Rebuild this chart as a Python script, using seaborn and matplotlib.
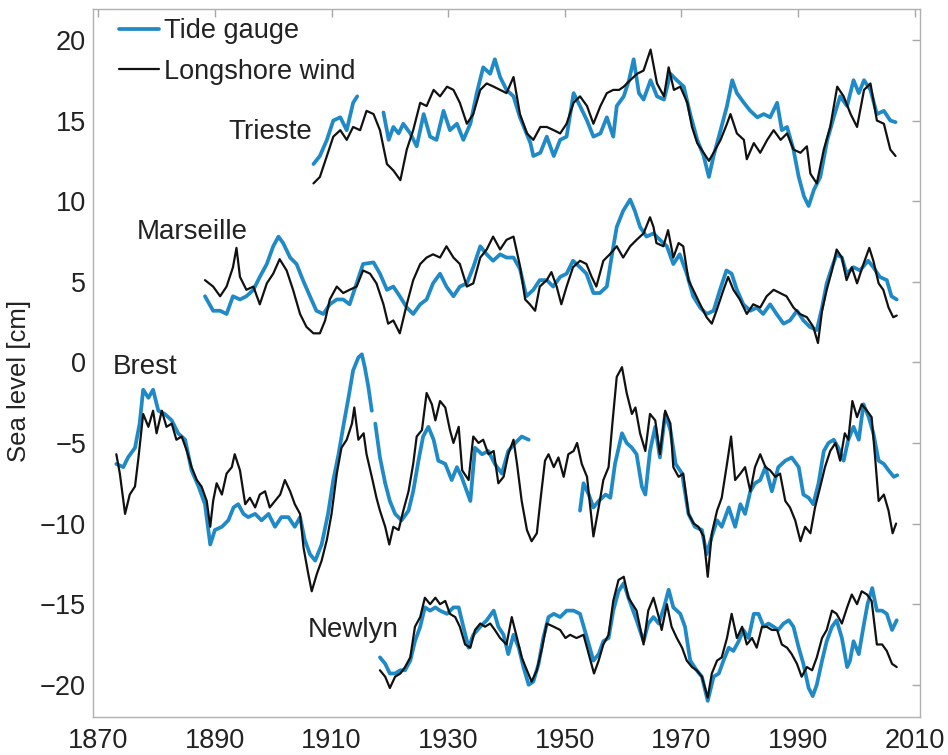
import numpy as np
import pandas as pd
import matplotlib
matplotlib.use("Agg")
import matplotlib.pyplot as plt
from matplotlib.lines import Line2D
import seaborn as sns

nan = np.nan

# ---------------- Trieste ----------------
trieste_wind_year = [
    1906.9, 1908.0, 1909.2, 1910.3, 1911.5, 1912.6, 1913.7, 1914.9, 1916.0, 1917.2,
    1918.3, 1919.5, 1920.6, 1921.8, 1922.9, 1924.0, 1925.2, 1926.3, 1927.5, 1928.6,
    1929.8, 1930.9, 1932.0, 1933.2, 1934.3, 1935.5, 1936.6, 1937.8, 1938.9, 1940.0,
    1941.2, 1942.3, 1943.5, 1944.6, 1945.8, 1946.9, 1948.1, 1949.2, 1950.3, 1951.5,
    1952.6, 1953.8, 1954.9, 1956.1, 1957.2, 1958.3, 1959.3, 1960.1, 1961.2, 1962.4,
    1963.5, 1964.7, 1965.8, 1967.0, 1967.8, 1968.7, 1969.8, 1971.0, 1971.8, 1972.7,
    1973.8, 1974.7, 1975.5, 1976.7, 1977.8, 1978.4, 1979.5, 1980.7, 1981.2, 1982.4,
    1983.5, 1984.7, 1985.8, 1987.0, 1988.1, 1989.2, 1990.4, 1991.5, 1992.1, 1993.2,
    1994.4, 1995.5, 1996.7, 1997.8, 1999.0, 2000.1, 2001.3, 2002.4, 2003.5, 2004.7,
    2005.8, 2006.7]
trieste_wind_cm = [
    11.1, 11.5, 12.8, 14.0, 14.4, 13.8, 14.6, 14.4, 15.6, 15.4,
    14.4, 12.3, 11.9, 11.3, 13.2, 14.4, 16.1, 15.9, 16.9, 16.5,
    17.1, 16.9, 16.1, 14.8, 15.4, 16.9, 17.3, 17.1, 16.9, 16.7,
    17.7, 15.4, 14.2, 13.8, 14.6, 14.6, 14.4, 14.2, 14.8, 16.1,
    16.5, 15.9, 14.8, 15.9, 16.7, 16.9, 16.9, 17.1, 17.5, 17.9,
    18.1, 19.4, 17.3, 16.5, 18.3, 16.9, 17.1, 16.1, 14.6, 13.6,
    13.0, 12.5, 13.0, 13.8, 14.8, 15.4, 14.2, 13.8, 12.6, 13.6,
    13.0, 13.8, 14.4, 13.8, 14.2, 13.2, 13.0, 13.4, 11.7, 11.1,
    13.2, 14.6, 17.1, 16.5, 15.4, 14.6, 16.9, 17.3, 15.0, 14.8,
    13.2, 12.8]

trieste_gauge_year = [
    1906.9, 1908.0, 1909.2, 1910.3, 1911.5, 1912.6, 1913.7, 1914.4, 1916.5, 1918.9,
    1919.8, 1920.6, 1921.5, 1922.3, 1923.5, 1924.6, 1925.8, 1926.9, 1928.0, 1929.2,
    1930.3, 1931.5, 1932.6, 1933.8, 1934.9, 1936.0, 1937.2, 1938.0, 1938.9, 1940.0,
    1941.2, 1942.3, 1944.1, 1944.6, 1945.8, 1946.9, 1948.1, 1949.2, 1950.3, 1951.5,
    1952.6, 1953.8, 1954.9, 1956.1, 1957.2, 1958.3, 1958.9, 1960.1, 1961.0, 1961.8,
    1962.7, 1963.5, 1964.7, 1965.8, 1967.0, 1968.1, 1969.2, 1970.4, 1971.5, 1972.7,
    1973.8, 1974.7, 1975.5, 1976.7, 1977.8, 1978.7, 1979.5, 1980.7, 1981.8, 1983.0,
    1984.1, 1985.2, 1986.4, 1987.2, 1988.1, 1989.2, 1990.1, 1991.0, 1991.8, 1992.7,
    1993.8, 1995.0, 1996.1, 1997.2, 1998.4, 1999.5, 2000.4, 2001.3, 2002.4, 2003.5,
    2004.7, 2005.8, 2006.7]
trieste_gauge_cm = [
    12.3, 12.8, 13.8, 15.0, 15.2, 14.4, 16.1, 16.5, nan, 15.5,
    13.8, 14.6, 14.2, 14.8, 14.2, 13.4, 15.4, 14.0, 13.8, 15.6,
    14.4, 14.8, 13.8, 14.8, 16.7, 18.3, 17.9, 18.8, 17.7, 16.9,
    16.5, 15.2, 13.6, 12.8, 13.0, 14.0, 12.8, 13.8, 14.0, 16.7,
    15.9, 15.0, 14.0, 14.2, 15.2, 14.0, 15.9, 16.5, 17.5, 18.8,
    16.7, 16.3, 17.5, 16.5, 16.3, 17.9, 17.5, 17.1, 15.4, 13.8,
    12.8, 11.5, 12.8, 14.4, 15.9, 17.5, 16.7, 16.1, 15.6, 15.2,
    15.4, 15.2, 16.1, 14.4, 14.6, 13.2, 11.5, 10.3, 9.7, 10.7,
    11.5, 13.8, 15.2, 16.5, 15.9, 17.5, 16.7, 17.5, 16.9, 15.4,
    15.6, 15.0, 14.9]

# ---------------- Marseille ----------------
marseille_wind_year = [
    1888.3, 1889.7, 1890.9, 1892.0, 1893.1, 1893.7, 1894.3, 1895.4, 1896.6, 1897.7,
    1898.9, 1900.0, 1901.1, 1902.3, 1903.4, 1904.6, 1905.7, 1906.9, 1908.0, 1908.9,
    1909.7, 1910.9, 1912.0, 1913.1, 1914.3, 1915.4, 1916.6, 1917.7, 1918.9, 1919.7,
    1920.6, 1921.7, 1922.9, 1924.0, 1925.2, 1926.3, 1927.4, 1928.6, 1929.7, 1930.9,
    1932.0, 1933.2, 1934.3, 1935.5, 1936.6, 1937.7, 1938.9, 1940.0, 1941.2, 1942.3,
    1943.2, 1944.0, 1944.9, 1945.7, 1946.9, 1947.7, 1948.6, 1949.4, 1950.3, 1951.4,
    1952.6, 1953.7, 1954.6, 1955.4, 1956.6, 1957.7, 1958.9, 1960.0, 1961.2, 1962.3,
    1963.5, 1964.6, 1965.2, 1965.7, 1966.9, 1967.7, 1968.6, 1969.5, 1970.3, 1971.2,
    1972.0, 1973.2, 1974.3, 1975.2, 1976.0, 1977.2, 1978.0, 1978.9, 1980.0, 1981.2,
    1982.3, 1983.5, 1984.6, 1985.8, 1986.9, 1988.0, 1989.2, 1990.3, 1991.5, 1992.6,
    1993.4, 1994.1, 1994.9, 1995.8, 1996.6, 1997.5, 1998.3, 1999.2, 2000.1, 2001.2,
    2002.2, 2002.9, 2003.8, 2004.6, 2005.5, 2006.3, 2006.9]
marseille_wind_cm = [
    5.1, 4.7, 4.1, 4.7, 5.9, 7.1, 5.3, 4.5, 4.7, 3.6,
    4.9, 5.5, 6.4, 5.7, 4.5, 3.0, 2.2, 1.8, 1.8, 2.6,
    3.9, 4.7, 4.3, 4.5, 4.7, 5.7, 5.5, 4.9, 3.6, 2.4,
    2.6, 1.8, 3.6, 5.1, 6.1, 6.5, 6.7, 6.5, 7.2, 6.5,
    6.1, 4.7, 4.9, 6.5, 7.0, 7.8, 7.0, 7.6, 7.8, 6.0,
    3.9, 3.6, 3.2, 4.7, 5.1, 5.6, 4.7, 3.6, 4.7, 5.9,
    6.3, 6.1, 5.3, 4.7, 6.3, 6.7, 7.2, 6.5, 7.2, 7.6,
    8.0, 9.0, 8.4, 7.4, 7.2, 8.2, 6.5, 7.4, 7.2, 5.1,
    4.5, 3.6, 2.8, 2.4, 3.2, 4.5, 5.3, 4.5, 3.9, 3.0,
    3.6, 3.4, 4.1, 4.5, 4.3, 4.1, 3.4, 3.0, 2.8, 2.2,
    1.2, 3.2, 4.5, 5.7, 7.0, 6.5, 5.1, 5.9, 4.9, 6.1,
    7.1, 6.3, 4.9, 4.5, 3.4, 2.8, 2.9]

marseille_gauge_year = [
    1888.3, 1889.7, 1890.9, 1892.0, 1893.1, 1894.3, 1895.4, 1896.6, 1897.7, 1898.9,
    1900.0, 1900.9, 1901.7, 1902.9, 1904.0, 1905.1, 1906.3, 1907.4, 1908.6, 1909.7,
    1910.9, 1912.0, 1913.1, 1914.3, 1915.4, 1917.2, 1918.3, 1919.5, 1920.6, 1921.7,
    1922.9, 1924.0, 1925.2, 1926.3, 1927.4, 1928.6, 1929.7, 1930.9, 1932.0, 1933.2,
    1934.3, 1935.5, 1936.6, 1937.7, 1938.9, 1940.0, 1941.2, 1942.3, 1943.4, 1944.6,
    1945.7, 1946.9, 1948.0, 1949.2, 1950.3, 1951.4, 1952.6, 1953.7, 1954.9, 1956.0,
    1957.2, 1958.0, 1958.9, 1960.0, 1961.2, 1962.0, 1962.9, 1964.0, 1965.2, 1966.3,
    1967.5, 1968.6, 1969.7, 1970.9, 1972.0, 1973.2, 1974.3, 1975.5, 1976.6, 1977.7,
    1978.6, 1979.5, 1980.6, 1981.8, 1982.9, 1984.0, 1985.2, 1986.3, 1987.5, 1988.6,
    1989.8, 1990.9, 1992.0, 1993.2, 1994.1, 1994.9, 1995.8, 1996.6, 1997.5, 1998.3,
    1999.5, 2000.6, 2002.0, 2002.9, 2004.0, 2005.2, 2006.0, 2006.9]
marseille_gauge_cm = [
    4.1, 3.2, 3.2, 3.0, 4.1, 3.9, 4.1, 4.5, 5.3, 6.1,
    7.2, 7.8, 7.4, 6.5, 6.1, 5.1, 4.1, 3.2, 3.0, 3.6,
    3.9, 3.9, 3.6, 4.9, 6.1, 6.2, 5.5, 4.5, 4.7, 4.1,
    3.4, 3.0, 3.6, 3.9, 4.9, 5.5, 4.7, 4.1, 4.7, 4.9,
    5.9, 7.2, 6.7, 6.3, 6.7, 6.5, 6.5, 5.8, 4.1, 4.5,
    5.1, 5.1, 4.7, 5.3, 5.5, 6.3, 5.9, 5.5, 4.3, 4.3,
    4.7, 6.5, 8.4, 9.4, 10.1, 9.4, 8.4, 7.8, 8.0, 7.6,
    7.2, 6.1, 6.7, 5.5, 4.1, 3.4, 3.0, 3.2, 4.5, 5.7,
    5.5, 4.5, 3.6, 3.2, 3.4, 3.0, 3.6, 3.0, 2.4, 2.6,
    3.2, 2.6, 2.2, 2.0, 3.4, 4.9, 5.9, 6.7, 6.5, 5.5,
    5.9, 5.7, 6.3, 5.9, 5.3, 5.1, 4.1, 3.9]

# ---------------- Brest ----------------
brest_wind_year = [
    1873.1, 1873.7, 1874.6, 1875.4, 1876.3, 1876.9, 1877.7, 1878.6, 1879.4, 1880.0,
    1880.9, 1881.7, 1882.6, 1883.4, 1884.3, 1885.2, 1886.0, 1886.9, 1887.7, 1888.6,
    1889.2, 1889.7, 1890.3, 1891.2, 1892.0, 1892.9, 1893.4, 1894.3, 1895.2, 1896.0,
    1896.9, 1897.7, 1898.6, 1899.4, 1900.3, 1901.2, 1902.0, 1902.9, 1903.7, 1904.6,
    1905.2, 1906.0, 1906.6, 1907.5, 1908.3, 1909.2, 1910.0, 1910.9, 1911.7, 1912.6,
    1913.5, 1913.9, 1914.6, 1915.5, 1916.0, 1916.9, 1917.7, 1918.3, 1919.2, 1919.9,
    1920.6, 1921.5, 1922.3, 1923.2, 1924.0, 1924.6, 1925.5, 1926.3, 1927.2, 1927.8,
    1928.6, 1929.5, 1930.3, 1930.9, 1931.8, 1932.4, 1933.5, 1934.3, 1935.2, 1936.0,
    1936.9, 1937.8, 1938.6, 1939.5, 1940.3, 1941.2, 1941.8, 1942.6, 1943.5, 1944.3,
    1945.2, 1945.8, 1946.6, 1947.2, 1948.1, 1948.9, 1949.8, 1950.6, 1951.5, 1952.1,
    1952.9, 1953.8, 1954.9, 1955.8, 1956.6, 1957.5, 1958.2, 1958.9, 1959.8, 1960.6,
    1961.5, 1962.1, 1962.9, 1963.8, 1964.6, 1965.5, 1966.3, 1967.2, 1968.1, 1968.6,
    1969.5, 1970.3, 1971.2, 1972.1, 1972.9, 1973.8, 1974.5, 1975.2, 1976.1, 1976.9,
    1977.8, 1978.5, 1979.2, 1980.1, 1980.9, 1981.8, 1982.6, 1983.5, 1984.4, 1985.2,
    1986.1, 1986.9, 1987.8, 1988.6, 1989.5, 1990.4, 1991.2, 1992.1, 1992.9, 1993.8,
    1994.6, 1995.5, 1996.4, 1997.2, 1998.0, 1998.6, 1999.3, 2000.1, 2000.9, 2001.8,
    2002.6, 2003.2, 2003.8, 2004.7, 2005.5, 2006.2, 2006.8]
brest_wind_cm = [
    -5.7, -6.9, -9.4, -8.2, -7.7, -5.9, -3.2, -4.0, -3.0, -4.4,
    -3.0, -4.0, -3.8, -4.8, -4.6, -5.5, -6.5, -7.3, -7.7, -8.6,
    -10.2, -8.6, -7.5, -8.2, -6.9, -6.5, -5.7, -6.7, -8.8, -8.4,
    -9.0, -8.2, -8.0, -9.0, -8.6, -8.2, -7.3, -8.0, -8.8, -9.4,
    -11.5, -13.1, -14.2, -13.1, -12.3, -11.0, -9.4, -6.9, -5.3, -4.8,
    -3.8, -2.8, -4.8, -4.4, -5.7, -7.1, -8.4, -9.2, -10.2, -11.3,
    -10.2, -10.4, -9.2, -8.0, -6.3, -4.6, -4.2, -1.9, -2.6, -3.6,
    -2.4, -2.8, -4.2, -5.0, -4.0, -6.7, -7.3, -4.6, -5.0, -4.8,
    -5.7, -5.5, -7.5, -7.1, -5.7, -4.8, -6.3, -8.6, -10.4, -11.1,
    -10.6, -8.6, -6.1, -5.7, -6.5, -5.9, -7.1, -5.7, -5.5, -5.0,
    -6.3, -7.1, -10.8, -9.0, -7.3, -6.5, -3.6, -0.9, -0.3, -1.9,
    -3.2, -2.8, -4.4, -5.5, -3.2, -3.6, -5.7, -3.0, -3.8, -6.5,
    -7.1, -6.9, -9.4, -10.0, -10.2, -10.8, -13.3, -10.6, -9.2, -8.4,
    -6.3, -4.6, -7.3, -6.9, -6.5, -8.0, -6.5, -5.7, -6.5, -6.7,
    -7.1, -6.9, -8.6, -9.0, -9.8, -11.1, -10.2, -10.6, -9.0, -7.7,
    -6.5, -5.5, -5.0, -6.1, -4.4, -4.8, -2.4, -3.4, -2.6, -3.0,
    -3.4, -5.9, -8.6, -8.2, -9.2, -10.6, -10.0]

brest_gauge_year = [
    1873.1, 1874.3, 1875.1, 1876.3, 1877.1, 1877.7, 1878.6, 1879.4, 1880.3, 1881.4,
    1882.6, 1883.7, 1884.9, 1886.0, 1887.2, 1888.3, 1889.2, 1890.0, 1891.2, 1892.3,
    1893.2, 1894.0, 1894.9, 1895.7, 1896.9, 1898.0, 1899.2, 1900.3, 1901.4, 1902.6,
    1903.7, 1904.6, 1905.4, 1906.3, 1907.2, 1908.3, 1909.4, 1910.3, 1911.2, 1912.0,
    1912.9, 1913.7, 1914.6, 1915.2, 1915.7, 1916.3, 1916.9, 1917.2, 1917.5, 1918.3,
    1919.2, 1920.0, 1920.9, 1922.0, 1923.2, 1924.0, 1924.9, 1925.7, 1926.6, 1927.5,
    1928.3, 1929.5, 1930.6, 1931.5, 1932.3, 1933.2, 1933.8, 1934.6, 1935.8, 1936.9,
    1938.0, 1939.2, 1940.3, 1941.5, 1942.6, 1943.8, 1948.0, 1952.6, 1953.2, 1954.1,
    1954.9, 1955.8, 1957.0, 1957.8, 1958.6, 1959.8, 1960.6, 1961.5, 1962.3, 1963.2,
    1963.8, 1964.6, 1965.5, 1966.3, 1967.2, 1968.1, 1969.0, 1970.1, 1971.2, 1972.3,
    1973.5, 1974.3, 1975.2, 1976.1, 1976.9, 1978.1, 1979.2, 1980.1, 1980.9, 1981.8,
    1982.6, 1983.5, 1984.4, 1985.5, 1986.6, 1987.8, 1988.9, 1990.1, 1990.9, 1991.8,
    1992.6, 1993.5, 1994.4, 1995.2, 1996.1, 1996.9, 1997.8, 1998.6, 1999.5, 2000.4,
    2001.2, 2002.1, 2002.9, 2003.8, 2004.7, 2005.5, 2006.4, 2007.0]
brest_gauge_cm = [
    -6.3, -6.5, -5.9, -5.3, -3.8, -1.7, -2.2, -1.7, -3.0, -3.2,
    -3.6, -4.4, -4.8, -6.7, -7.7, -8.8, -11.3, -10.4, -10.2, -9.8,
    -9.0, -8.8, -9.4, -9.6, -9.4, -9.8, -9.4, -10.2, -9.6, -9.6,
    -10.2, -9.6, -11.0, -11.9, -12.3, -11.3, -9.4, -7.3, -5.7, -4.0,
    -2.2, -0.5, 0.3, 0.5, -0.3, -1.5, -3.0, nan, -3.8, -5.9,
    -7.5, -8.6, -9.4, -9.8, -9.2, -8.0, -6.1, -4.6, -4.0, -4.8,
    -6.1, -6.3, -7.3, -6.5, -7.1, -8.0, -8.6, -5.3, -5.7, -5.5,
    -6.3, -6.9, -5.5, -5.0, -4.6, -4.8, nan, -9.2, -7.5, -8.2,
    -9.0, -8.6, -8.2, -8.4, -6.3, -4.4, -5.0, -5.3, -5.7, -7.7,
    -8.2, -5.5, -4.0, -5.9, -3.2, -4.2, -6.3, -6.9, -9.4, -10.2,
    -10.4, -11.9, -10.8, -9.8, -10.2, -9.0, -10.2, -8.8, -9.4, -8.0,
    -7.5, -7.3, -6.5, -8.0, -6.5, -6.1, -5.9, -6.5, -8.2, -8.4,
    -8.8, -7.5, -5.5, -5.0, -4.8, -5.3, -6.1, -4.8, -4.0, -4.8,
    -2.6, -3.4, -4.4, -6.1, -6.3, -6.7, -7.1, -7.0]

# ---------------- Newlyn ----------------
newlyn_wind_year = [
    1918.3, 1919.2, 1920.0, 1920.9, 1921.8, 1922.6, 1923.5, 1924.3, 1925.2, 1926.0,
    1926.9, 1927.8, 1928.6, 1929.5, 1930.3, 1931.2, 1932.0, 1932.9, 1933.8, 1934.6,
    1935.5, 1936.3, 1937.2, 1938.0, 1938.9, 1940.0, 1940.9, 1941.8, 1942.6, 1943.5,
    1944.3, 1945.2, 1946.1, 1946.9, 1948.1, 1949.2, 1950.1, 1950.9, 1952.0, 1953.2,
    1954.1, 1955.0, 1955.8, 1956.6, 1957.5, 1958.3, 1959.2, 1960.1, 1960.9, 1962.3,
    1963.5, 1964.3, 1965.2, 1966.1, 1966.6, 1967.5, 1968.3, 1969.2, 1970.1, 1970.9,
    1971.8, 1972.6, 1973.5, 1974.5, 1975.2, 1976.1, 1976.9, 1977.8, 1978.6, 1979.5,
    1980.4, 1981.2, 1982.1, 1982.9, 1983.8, 1984.6, 1985.5, 1986.4, 1987.2, 1988.1,
    1988.9, 1989.8, 1990.6, 1991.5, 1992.4, 1993.2, 1994.1, 1994.9, 1995.8, 1996.6,
    1997.5, 1998.4, 1999.2, 2000.1, 2000.9, 2001.8, 2002.6, 2003.5, 2004.4, 2005.2,
    2006.1, 2006.9]
newlyn_wind_cm = [
    -19.1, -19.5, -20.2, -19.5, -19.3, -18.9, -18.3, -16.4, -15.8, -14.6,
    -15.0, -14.6, -15.0, -14.8, -15.6, -15.8, -16.4, -17.5, -17.7, -16.6,
    -16.2, -16.4, -16.2, -16.6, -17.1, -17.5, -15.8, -17.1, -18.3, -19.1,
    -19.8, -19.1, -17.7, -16.2, -16.4, -16.6, -17.1, -16.9, -17.1, -16.9,
    -18.1, -19.3, -18.5, -17.5, -16.9, -14.8, -13.5, -13.3, -14.6, -15.4,
    -17.5, -15.4, -14.6, -15.8, -16.6, -15.0, -16.4, -17.1, -17.7, -18.5,
    -18.9, -19.1, -19.5, -20.8, -19.3, -18.5, -18.3, -17.1, -15.6, -17.1,
    -16.4, -17.5, -17.1, -17.7, -16.4, -16.4, -16.6, -16.6, -17.5, -17.7,
    -18.1, -18.7, -19.5, -18.9, -19.1, -18.3, -17.1, -16.6, -15.4, -15.6,
    -16.2, -15.2, -14.4, -15.0, -14.2, -14.4, -14.8, -17.5, -17.5, -17.9,
    -18.7, -18.9]

newlyn_gauge_year = [
    1918.3, 1919.2, 1920.0, 1920.9, 1921.8, 1922.6, 1923.5, 1924.3, 1925.2, 1926.0,
    1926.9, 1927.8, 1928.6, 1929.8, 1930.9, 1931.8, 1932.6, 1933.5, 1934.3, 1935.5,
    1936.6, 1937.8, 1938.6, 1939.5, 1940.3, 1941.2, 1942.1, 1942.9, 1943.8, 1944.6,
    1945.5, 1946.3, 1947.2, 1948.1, 1949.2, 1950.3, 1951.5, 1952.6, 1953.8, 1954.9,
    1955.8, 1956.6, 1957.5, 1958.3, 1959.2, 1960.1, 1960.9, 1962.3, 1963.5, 1964.3,
    1965.2, 1966.1, 1967.0, 1967.8, 1968.6, 1969.8, 1970.6, 1971.5, 1972.6, 1973.5,
    1974.5, 1975.5, 1976.4, 1977.2, 1978.1, 1978.9, 1979.8, 1980.6, 1981.5, 1982.4,
    1983.2, 1984.1, 1984.9, 1985.8, 1986.6, 1987.5, 1988.4, 1989.2, 1990.1, 1990.9,
    1991.8, 1992.5, 1993.2, 1994.1, 1994.9, 1995.8, 1996.6, 1997.5, 1998.4, 1998.9,
    1999.5, 2000.4, 2001.2, 2001.9, 2002.7, 2003.5, 2004.4, 2005.2, 2006.1, 2006.9]
newlyn_gauge_cm = [
    -18.3, -18.7, -19.3, -19.3, -19.1, -19.1, -18.5, -17.3, -16.4, -15.2,
    -15.4, -15.2, -15.4, -15.6, -15.2, -15.2, -16.4, -17.7, -16.9, -16.4,
    -16.0, -15.4, -16.4, -16.9, -18.1, -16.9, -17.7, -18.9, -20.0, -19.8,
    -18.7, -17.1, -15.8, -15.6, -15.8, -15.4, -15.4, -15.6, -17.1, -18.5,
    -18.1, -17.3, -17.1, -15.4, -14.2, -13.7, -14.6, -16.0, -17.3, -16.2,
    -15.8, -16.2, -15.2, -14.1, -15.2, -15.6, -16.4, -18.5, -19.1, -19.5,
    -21.0, -19.5, -19.3, -18.5, -17.7, -17.9, -17.3, -16.6, -17.1, -15.6,
    -15.6, -16.4, -16.2, -16.4, -16.6, -16.2, -16.0, -16.4, -17.7, -18.7,
    -20.2, -20.7, -20.0, -18.5, -17.3, -16.4, -16.0, -17.1, -18.9, -18.5,
    -17.3, -18.1, -16.4, -15.0, -14.0, -15.4, -15.4, -15.6, -16.6, -16.0]

stations = ["Trieste", "Marseille", "Brest", "Newlyn"]
station_label_pos = {"Trieste": (1892.3, 14.3), "Marseille": (1876.6, 8.1),
                     "Brest": (1872.5, -0.3), "Newlyn": (1905.9, -16.6)}
xticks = [1870, 1890, 1910, 1930, 1950, 1970, 1990, 2010]
yticks = [-20, -15, -10, -5, 0, 5, 10, 15, 20]

series = {
    ("Trieste", "Tide gauge"): (trieste_gauge_year, trieste_gauge_cm),
    ("Trieste", "Longshore wind"): (trieste_wind_year, trieste_wind_cm),
    ("Marseille", "Tide gauge"): (marseille_gauge_year, marseille_gauge_cm),
    ("Marseille", "Longshore wind"): (marseille_wind_year, marseille_wind_cm),
    ("Brest", "Tide gauge"): (brest_gauge_year, brest_gauge_cm),
    ("Brest", "Longshore wind"): (brest_wind_year, brest_wind_cm),
    ("Newlyn", "Tide gauge"): (newlyn_gauge_year, newlyn_gauge_cm),
    ("Newlyn", "Longshore wind"): (newlyn_wind_year, newlyn_wind_cm),
}


def to_frame(station, source, years, values):
    df = pd.DataFrame({"year": years, "cm": values})
    # a missing value splits the record into separate line pieces
    piece = df["cm"].isna().cumsum().astype(str)
    df["segment"] = station + "|" + source + "|" + piece
    df["station"] = station
    df["source"] = source
    return df.dropna(subset=["cm"])


frames = [to_frame(st, src, *vals) for (st, src), vals in series.items()]
data = pd.concat(frames, ignore_index=True)

BLUE = "#1f8ac6"
palette = {"Tide gauge": BLUE, "Longshore wind": "#111111"}
widths = {"Tide gauge": 2.7, "Longshore wind": 1.6}

sns.set_theme(style="white")
plt.rcParams["font.family"] = ["Liberation Sans", "DejaVu Sans"]
plt.rcParams["text.color"] = "#222222"

fig = plt.figure(figsize=(9.48, 7.55), dpi=100)
ax = fig.add_axes([0.0981, 0.0503, 0.9705 - 0.0981, 0.9877 - 0.0503])

for src in ["Tide gauge", "Longshore wind"]:
    sub = data[data["source"] == src]
    sns.lineplot(data=sub, x="year", y="cm", units="segment", estimator=None,
                 sort=False, color=palette[src], linewidth=widths[src],
                 legend=False, ax=ax)

for st in stations:
    x, y = station_label_pos[st]
    ax.text(x, y, st, fontsize=20, ha="left", va="center", color="#222222")

ax.set_xlim(1869.1, 2010.9)
ax.set_ylim(-22.0, 21.9)
ax.set_xticks(xticks)
ax.set_yticks(yticks)
ax.set_xlabel("")
ax.set_ylabel("Sea level [cm]", fontsize=18.5, color="#222222", labelpad=3)
ax.yaxis.set_label_coords(-0.075, 0.475)
ax.tick_params(axis="both", which="major", direction="in", length=6, width=1,
               color="#a8a8a8", labelsize=19.5, labelcolor="#222222",
               top=True, right=True)
ax.tick_params(axis="x", pad=8)
ax.tick_params(axis="y", pad=5)
for sp in ax.spines.values():
    sp.set_visible(True)
    sp.set_color("#b0b0b0")
    sp.set_linewidth(1.0)

handles = [Line2D([], [], color=BLUE, linewidth=widths["Tide gauge"]),
           Line2D([], [], color="#111111", linewidth=widths["Longshore wind"])]
ax.legend(handles, ["Tide gauge", "Longshore wind"], loc="upper left",
          bbox_to_anchor=(0.032, 0.987), frameon=False, fontsize=19.5,
          handlelength=1.45, handletextpad=0.2, labelspacing=0.52,
          borderpad=0.0, borderaxespad=0.0)

fig.savefig("out.png", dpi=100)
